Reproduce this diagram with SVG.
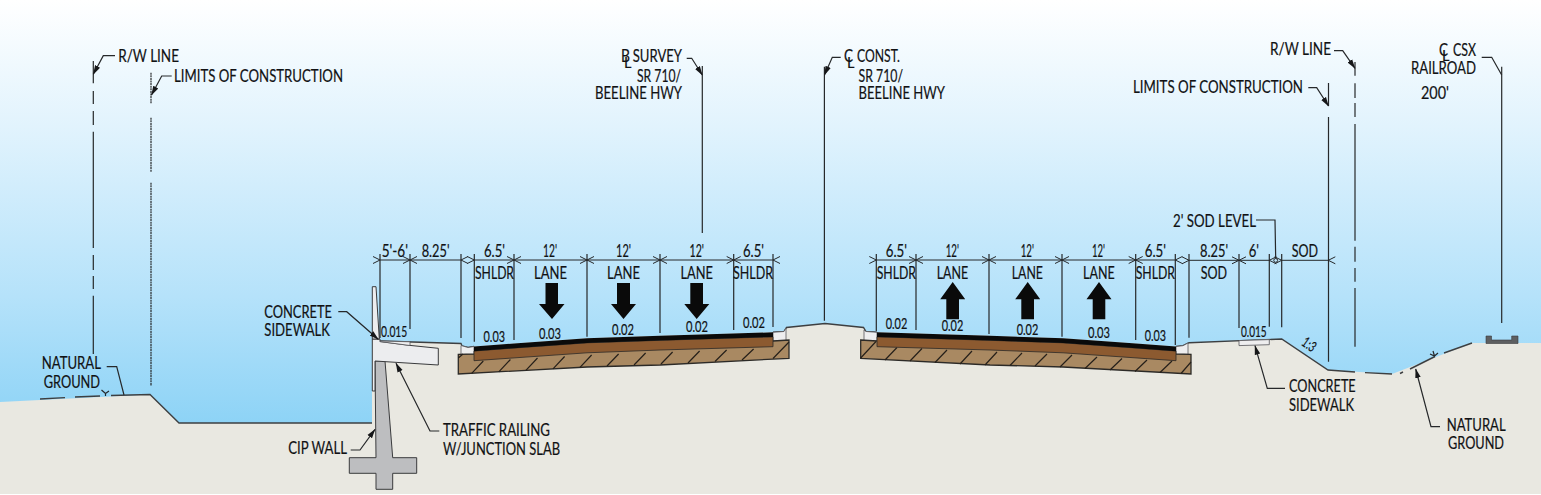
<svg xmlns="http://www.w3.org/2000/svg" width="1541" height="495" viewBox="0 0 1541 495">
<style>
text{font-family:"Lato","Open Sans","Liberation Sans",sans-serif;fill:#111214;font-size:18.2px;stroke:#111214;stroke-width:.2}
.s{font-size:14.5px}
.l{fill:none;stroke:#26282a;stroke-width:1.2}
.g{fill:none;stroke:#3d3f41;stroke-width:1.4}
.d{fill:none;stroke:#26282a;stroke-width:1;marker-start:url(#o);marker-end:url(#o)}
.a{marker-end:url(#f)}
.k{fill:#0a0a0a}
.h{fill:none;stroke:#26201a;stroke-width:1.2}
.b{fill:#a98962;stroke:#2c2a27;stroke-width:1.3}
.br{fill:#8c5a30;stroke:#2c2a27;stroke-width:.8}
.w{fill:#eeeeef;stroke:#55565a;stroke-width:.8}
</style>
<defs>
<linearGradient id="sky" x1="0" y1="0" x2="0" y2="1"><stop offset="0" stop-color="#ffffff"/><stop offset=".3" stop-color="#e1f3fd"/><stop offset=".7" stop-color="#b5e2fa"/><stop offset="1" stop-color="#8dd3f6"/></linearGradient>
<marker id="o" markerUnits="userSpaceOnUse" markerWidth="12" markerHeight="10" refX="0" refY="4" viewBox="-1 0 12 8" orient="auto-start-reverse"><path d="M7,0.5 L0,4 L7,7.5" fill="none" stroke="#26282a" stroke-width="1"/></marker>
<marker id="f" markerUnits="userSpaceOnUse" markerWidth="10" markerHeight="8" refX="9" refY="3" viewBox="0 0 10 6" orient="auto"><path d="M0,0.2 L9.5,3 L0,5.8 Z" fill="#161719"/></marker>
</defs>
<rect id="sky-bg" x="0" y="0" width="1541" height="424" fill="url(#sky)"/>
<rect x="0" y="424" width="1541" height="71" fill="#ffffff"/>
<path id="ground" fill="#e9e8e1" d="M0,402 L150,394.5 L179,423 L372,423 L372,340 L380,341 L461,343.5 L462,346 L468,347.5 L474,346.5 L514,343.5 L587,338.3 L660,335.8 L733,333.5 L773,332.3 L784,331.5 L786.5,327.5 L825,323.5 L863.5,327.5 L866,331.5 L877,332.3 L917,333.5 L990,335.8 L1063,338.3 L1136,343.5 L1176,346.5 L1183,345.7 L1189,342.7 L1281.7,339 L1328,370 L1392,374 L1472,343 L1541,343 L1541,494 L0,494 Z"/>
<g id="ground-lines">
<path class="g" d="M40,399 L65,397.6 M75,397 L100,396 M111,395.5 L150,394.5 L179,423 L372,423"/>
<path class="g" d="M380,341 L461,343.5 L462,346 L468,347.5 L474,346.5"/>
<path class="g" d="M773,332.3 L784,331.5 L786.5,327.5 L825,323.5 L863.5,327.5 L866,331.5 L877,332.3"/>
<path class="g" d="M1176,346.5 L1183,345.7 L1189,342.7 L1281.7,339 L1328,370 L1355,372 M1365,372.6 L1392,374 M1400,373.5 L1403,372 M1410,369 L1435,356.5 M1444,353 L1472,343"/>
<path class="l" d="M101.5,390 L105.5,393.5 L109,391 M105.5,393.5 L105.5,396"/>
<path class="l" d="M1430,354 L1434.5,356 L1438,353 M1434.5,356 L1433,351"/>
</g>
<g id="pavement-left">
<path class="w" d="M461,345.5 L468,347.5 L474,346.5 L474,355 L461,355 Z"/>
<path class="w" d="M773,332.3 L784,331.5 L786,328 L786,341 L773,341 Z"/>
<path class="b" d="M458.3,354.3 L474,354 L773,341 L789,340 L789,358.3 L660,365 L587,367 L458.3,374 Z"/>
<path class="h" d="M458.3,358 L463,354 M471.7,373.3 L483.3,361 M498.8,371.8 L510.4,359.5 M525.9,370.3 L537.5,358 M553,368.8 L564.6,356.5 M580,367.3 L591.6,355 M607,366 L618.6,354 M634,365 L645.6,353 M661,364 L672.6,352 M688,363 L699.6,351 M715,361.5 L726.6,350 M742,360 L753.6,349 M773,358.5 L789,342"/>
<path class="br" d="M474,351 L514,348 L587,342.8 L660,340.3 L733,338 L773,336.8 L773,346.7 L660,350 L587,352.8 L474,360.7 Z"/>
<path class="k" d="M474,346.5 L514,343.5 L587,338.3 L660,335.8 L733,333.5 L773,332.3 L773,337 L733,338.2 L660,340.5 L587,343 L514,348.2 L474,351.2 Z"/>
</g>
<g id="pavement-right">
<path class="w" d="M1176,346.5 L1183,345.7 L1188,343 L1188,355 L1176,355 Z"/>
<path class="w" d="M864,330 L866,331.5 L877,332.3 L877,341 L864,341 Z"/>
<path class="b" d="M860.7,340 L877,341 L1176,354 L1191,354.3 L1191,374 L1063,367 L990,365 L860.7,358.3 Z"/>
<path class="h" d="M860.7,358 L876,341.5 M885,360 L897,347.5 M910,361 L922,348.5 M935,362.5 L947,350 M960,364 L972,351 M985,365 L997,352 M1010,365.5 L1022,353 M1035,366 L1047,354 M1060,367 L1072,355 M1085,368.5 L1097,357 M1110,370 L1122,358.5 M1135,371.5 L1147,360 M1160,372.5 L1172,361 M1181,373.5 L1191,362"/>
<path class="br" d="M877,336.8 L917,338 L990,340.3 L1063,342.8 L1136,348 L1176,351 L1176,360.7 L1063,352.8 L990,350 L877,346.7 Z"/>
<path class="k" d="M877,332.3 L917,333.5 L990,335.8 L1063,338.3 L1136,343.5 L1176,346.5 L1176,351.2 L1136,348.2 L1063,343 L990,340.5 L917,338.2 L877,337 Z"/>
</g>
<g id="wall">
<path d="M375,361 L385,361 L392.7,457.7 L416.7,457.7 L416.7,473.3 L392.7,473.3 L392.7,489.3 L376,489.3 L376,473.3 L349.3,473.3 L349.3,457.7 L376,457.7 Z" fill="#bdbec0" stroke="#3a3b3d" stroke-width="1"/>
<path d="M372.3,339 L372.3,391 L375,391 L375,361 L438.3,365 L438.3,348.3 L410,345.4 L380,341.5 L380,339 Z" fill="#ecedef" stroke="#3a3b3d" stroke-width="1"/>
<path d="M372.3,286.7 L376,286.7 L379.3,339 L372.3,339 Z" fill="#ecedef" stroke="#3a3b3d" stroke-width="1"/>
</g>
<path id="sidewalk-left" class="w" d="M380,341 L410,341.8 L410,345.5 L380,341.6 Z"/>
<path id="sidewalk-right" class="w" d="M1239,340.6 L1269.3,339.6 L1269.3,344.7 L1239,345.6 Z"/>
<path id="rail" d="M1486,336 L1491.5,336 L1491.5,340 L1511.7,340 L1511.7,336 L1518,336 L1518,343.5 L1486,343.5 Z" fill="#5d5f61" stroke="#3a3b3d" stroke-width=".6"/>
<g id="traffic-arrows" class="k">
<path d="M545.5,283 H558 V304 H564.5 L552,319 L539,304 H545.5 Z"/>
<path d="M617,283 H630 V304 H636 L623.5,319 L611,304 H617 Z"/>
<path d="M690.3,283 H703 V304 H709.3 L696.7,319 L684.3,304 H690.3 Z"/>
<path d="M946.3,319.3 H959 V299.3 H965.2 L952.7,282 L940.2,299.3 H946.3 Z"/>
<path d="M1021.3,319.3 H1034 V299.3 H1040.2 L1027.7,282 L1015.2,299.3 H1021.3 Z"/>
<path d="M1092.7,319.3 H1105.3 V299.3 H1111.5 L1099,282 L1086.5,299.3 H1092.7 Z"/>
</g>
<g id="connectors">
<path class="l" d="M93.3,61 V83.3 M93.3,91 V104 M93.3,111 V125 M93.3,131.7 V248 M93.3,255 V270 M93.3,276 V289 M93.3,295.7 V354"/>
<path class="l" stroke-dasharray="2 .6" d="M151,72.7 V104 M151,117.7 V171.7 M151,182.7 V386"/>
<path class="l" d="M702.3,66 V233 M824.4,66.7 V320.7"/>
<path class="l" d="M1328.5,83 V106 M1328.5,117 V361.7"/>
<path class="l" d="M1355,62 V75.7 M1355,83.3 V98 M1355,103 V117 M1355,124 V240.7 M1355,246.7 V261.7 M1355,268 V281.7 M1355,288 V346.7"/>
<path class="l" d="M1501.7,66.7 V323"/>
<path class="l" d="M380,254 V338 M410,254 V329 M461,254 V338 M474.3,254 V341.7 M514,254 V340 M587,254 V336.7 M660,254 V333 M733.7,254 V330 M773,254 V327"/>
<path class="l" d="M876.3,254 V331 M916,254 V330 M989,254 V334 M1062,254 V336.7 M1135.7,254 V340 M1175.3,254 V345 M1189,254 V337.7 M1239,254 V328 M1269.3,254 V326.7 M1281.7,254 V327.3"/>
<path class="d" d="M380,260 H410"/><path class="d" d="M410,260 H461"/><path class="d" d="M474.3,260 H514"/><path class="d" d="M514,260 H587"/><path class="d" d="M587,260 H660"/><path class="d" d="M660,260 H733.7"/><path class="d" d="M733.7,260 H773"/>
<path class="d" d="M876.3,260 H916"/><path class="d" d="M916,260 H989"/><path class="d" d="M989,260 H1062"/><path class="d" d="M1062,260 H1135.7"/><path class="d" d="M1135.7,260 H1175.3"/>
<path class="d" d="M1189,260.3 H1239"/><path class="d" d="M1239,260.3 H1269.3"/><path class="d" d="M1281.7,260.3 H1328.3"/>
<path class="l" d="M1256,220 H1275 L1275.7,258.5"/><circle cx="1275.7" cy="260.4" r="1.9" fill="none" stroke="#26282a" stroke-width="1"/>
<path class="l a" d="M115,55.7 H103.3 L93.3,74.3"/>
<path class="l a" d="M171.7,76 H161.7 L151.5,95"/>
<path class="l a" d="M686.7,58.3 H691.7 L702.3,75"/>
<path class="l a" d="M840.7,57.3 H832.3 L824.5,75"/>
<path class="l a" d="M1334,50.7 H1342.7 L1355,68.3"/>
<path class="l a" d="M1308.3,87.7 H1316.7 L1328.5,106"/>
<path class="l" d="M1481.7,57.3 H1491.7 L1501.7,75"/>
<path class="l" d="M106.7,366.7 H116.7 L124,395"/>
<path class="l a" d="M338.3,311.7 H346.7 L378.3,339.3"/>
<path class="l a" d="M350.7,450 H360 L375,429.3"/>
<path class="l a" d="M439.3,431 H430 L396,363.3"/>
<path class="l a" d="M1285,388.3 H1267.3 L1255,345.7"/>
<path class="l a" d="M1440,426.7 H1431 L1415.7,369"/>
</g>
<g id="labels">
<text x="118.3" y="62" textLength="60.7" lengthAdjust="spacingAndGlyphs">R/W LINE</text>
<text x="174" y="82" textLength="169" lengthAdjust="spacingAndGlyphs">LIMITS OF CONSTRUCTION</text>
<text x="621" y="62" textLength="9" lengthAdjust="spacingAndGlyphs">B</text><text class="s" x="624" y="68">L</text>
<text x="632.7" y="62" textLength="49.3" lengthAdjust="spacingAndGlyphs">SURVEY</text>
<text x="637" y="81.7" textLength="44" lengthAdjust="spacingAndGlyphs">SR 710/</text>
<text x="595" y="99" textLength="87" lengthAdjust="spacingAndGlyphs">BEELINE HWY</text>
<text x="844" y="62" textLength="9" lengthAdjust="spacingAndGlyphs">C</text><text class="s" x="847" y="68">L</text>
<text x="857" y="62" textLength="43" lengthAdjust="spacingAndGlyphs">CONST.</text>
<text x="858.5" y="82" textLength="44.5" lengthAdjust="spacingAndGlyphs">SR 710/</text>
<text x="858.5" y="99" textLength="86.5" lengthAdjust="spacingAndGlyphs">BEELINE HWY</text>
<text x="1270" y="55" textLength="61" lengthAdjust="spacingAndGlyphs">R/W LINE</text>
<text x="1133" y="93" textLength="170" lengthAdjust="spacingAndGlyphs">LIMITS OF CONSTRUCTION</text>
<text x="1439" y="55.6" textLength="9" lengthAdjust="spacingAndGlyphs">C</text><text class="s" x="1442" y="61">L</text>
<text x="1453" y="55.6" textLength="23" lengthAdjust="spacingAndGlyphs">CSX</text>
<text x="1411" y="74" textLength="65" lengthAdjust="spacingAndGlyphs">RAILROAD</text>
<text x="1421" y="99" textLength="28" lengthAdjust="spacingAndGlyphs">200'</text>
<text x="1173" y="226.7" textLength="83" lengthAdjust="spacingAndGlyphs">2' SOD LEVEL</text>
<g id="dimension-labels">
<text x="381.7" y="256.7" textLength="26.3" lengthAdjust="spacingAndGlyphs">5'-6'</text>
<text x="421.7" y="256.7" textLength="27.8" lengthAdjust="spacingAndGlyphs">8.25'</text>
<text x="484" y="256.7" textLength="21" lengthAdjust="spacingAndGlyphs">6.5'</text>
<text x="543" y="256.7" textLength="14" lengthAdjust="spacingAndGlyphs">12'</text>
<text x="616" y="256.7" textLength="15" lengthAdjust="spacingAndGlyphs">12'</text>
<text x="689.5" y="256.7" textLength="14.5" lengthAdjust="spacingAndGlyphs">12'</text>
<text x="743" y="256.7" textLength="21" lengthAdjust="spacingAndGlyphs">6.5'</text>
<text x="475" y="279" textLength="39" lengthAdjust="spacingAndGlyphs">SHLDR</text>
<text x="534" y="279" textLength="33" lengthAdjust="spacingAndGlyphs">LANE</text>
<text x="607" y="279" textLength="33" lengthAdjust="spacingAndGlyphs">LANE</text>
<text x="680.5" y="279" textLength="32.5" lengthAdjust="spacingAndGlyphs">LANE</text>
<text x="733" y="279" textLength="40" lengthAdjust="spacingAndGlyphs">SHLDR</text>
<text x="885.7" y="257" textLength="21.3" lengthAdjust="spacingAndGlyphs">6.5'</text>
<text x="945.7" y="257" textLength="13.3" lengthAdjust="spacingAndGlyphs">12'</text>
<text x="1020.7" y="257" textLength="13.3" lengthAdjust="spacingAndGlyphs">12'</text>
<text x="1092" y="257" textLength="13" lengthAdjust="spacingAndGlyphs">12'</text>
<text x="1144.7" y="257" textLength="21.3" lengthAdjust="spacingAndGlyphs">6.5'</text>
<text x="876.7" y="279" textLength="39.3" lengthAdjust="spacingAndGlyphs">SHLDR</text>
<text x="936.7" y="279" textLength="31.6" lengthAdjust="spacingAndGlyphs">LANE</text>
<text x="1011.7" y="279" textLength="31.3" lengthAdjust="spacingAndGlyphs">LANE</text>
<text x="1083" y="279" textLength="31.7" lengthAdjust="spacingAndGlyphs">LANE</text>
<text x="1135.7" y="279" textLength="39.3" lengthAdjust="spacingAndGlyphs">SHLDR</text>
<text x="1200" y="256.7" textLength="28" lengthAdjust="spacingAndGlyphs">8.25'</text>
<text x="1200.7" y="279" textLength="26.3" lengthAdjust="spacingAndGlyphs">SOD</text>
<text x="1248.7" y="256.7" textLength="10.3" lengthAdjust="spacingAndGlyphs">6'</text>
<text x="1291.7" y="256.7" textLength="26.3" lengthAdjust="spacingAndGlyphs">SOD</text>
</g>
<g id="slope-labels">
<text class="s" x="381" y="336.7" textLength="26.3" lengthAdjust="spacingAndGlyphs">0.015</text>
<text class="s" x="483.5" y="342" textLength="21.5" lengthAdjust="spacingAndGlyphs">0.03</text>
<text class="s" x="539" y="338.6" textLength="22" lengthAdjust="spacingAndGlyphs">0.03</text>
<text class="s" x="612" y="335" textLength="22" lengthAdjust="spacingAndGlyphs">0.02</text>
<text class="s" x="686" y="332" textLength="22" lengthAdjust="spacingAndGlyphs">0.02</text>
<text class="s" x="743" y="328" textLength="22" lengthAdjust="spacingAndGlyphs">0.02</text>
<text class="s" x="885.7" y="329.3" textLength="21.6" lengthAdjust="spacingAndGlyphs">0.02</text>
<text class="s" x="941.7" y="331" textLength="21.6" lengthAdjust="spacingAndGlyphs">0.02</text>
<text class="s" x="1016.7" y="334.7" textLength="21.6" lengthAdjust="spacingAndGlyphs">0.02</text>
<text class="s" x="1088" y="338" textLength="22" lengthAdjust="spacingAndGlyphs">0.03</text>
<text class="s" x="1144.7" y="341" textLength="21.3" lengthAdjust="spacingAndGlyphs">0.03</text>
<text class="s" x="1241" y="336.7" textLength="25.7" lengthAdjust="spacingAndGlyphs">0.015</text>
<text class="s" transform="translate(1300.5,344.5) rotate(35)" textLength="14" lengthAdjust="spacingAndGlyphs">1:3</text>
</g>
<text x="41.7" y="369" textLength="59.3" lengthAdjust="spacingAndGlyphs">NATURAL</text>
<text x="43.7" y="388" textLength="56.3" lengthAdjust="spacingAndGlyphs">GROUND</text>
<text x="264.3" y="318" textLength="67.7" lengthAdjust="spacingAndGlyphs">CONCRETE</text>
<text x="264.3" y="336" textLength="65.7" lengthAdjust="spacingAndGlyphs">SIDEWALK</text>
<text x="288.3" y="454" textLength="58.7" lengthAdjust="spacingAndGlyphs">CIP WALL</text>
<text x="443" y="436" textLength="107" lengthAdjust="spacingAndGlyphs">TRAFFIC RAILING</text>
<text x="443" y="455" textLength="117" lengthAdjust="spacingAndGlyphs">W/JUNCTION SLAB</text>
<text x="1289" y="392" textLength="66.7" lengthAdjust="spacingAndGlyphs">CONCRETE</text>
<text x="1289" y="410.7" textLength="65" lengthAdjust="spacingAndGlyphs">SIDEWALK</text>
<text x="1446.7" y="430.7" textLength="59" lengthAdjust="spacingAndGlyphs">NATURAL</text>
<text x="1448" y="449.3" textLength="56" lengthAdjust="spacingAndGlyphs">GROUND</text>
</g>
</svg>
